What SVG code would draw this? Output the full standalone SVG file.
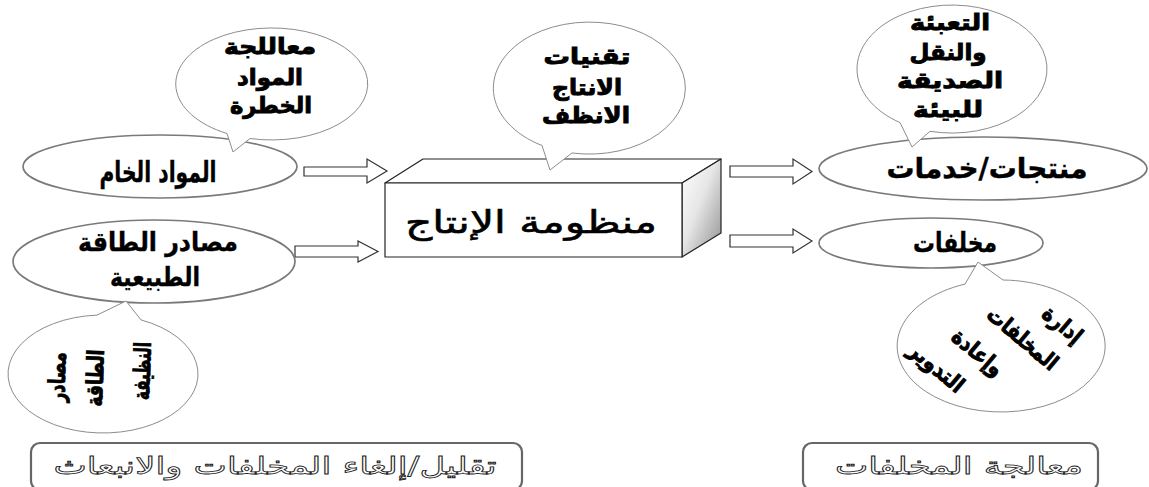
<svg xmlns="http://www.w3.org/2000/svg" width="1149" height="487" viewBox="0 0 1149 487">
<defs>
<linearGradient id="sideGrad" x1="0" y1="0" x2="1" y2="1">
<stop offset="0" stop-color="#ffffff"/>
<stop offset="0.45" stop-color="#e6e6e6"/>
<stop offset="1" stop-color="#8f8f8f"/>
</linearGradient>
<style>
.ell{fill:#fff;stroke:#7a7a7a;stroke-width:1.7}
.bub{fill:#fff;stroke:#8c8c8c;stroke-width:1}
.arr{fill:#fff;stroke:#333;stroke-width:1.2}
.box{fill:#fff;stroke:#222;stroke-width:1.2;stroke-linejoin:round}
.frm{fill:none;stroke:#666;stroke-width:2.2}
.bt{font-family:"DejaVu Sans",sans-serif;font-weight:bold;fill:#000;stroke:#000;stroke-width:0.9;text-anchor:middle}
.nt{font-family:"DejaVu Sans",sans-serif;font-weight:bold;fill:#000;stroke:#000;stroke-width:0.4;text-anchor:middle}
.ot{font-family:"DejaVu Sans",sans-serif;fill:#fff;stroke:#222;stroke-width:0.8;text-anchor:middle}
</style>
</defs>
<rect width="1149" height="487" fill="#fff"/>

<g id="connectors">
<path class="arr" d="M304,167 H367 V159 L387,171 L367,183 V176 H304 Z"/>
<path class="arr" d="M295,246 H358 V241 L378,251.5 L358,262 V257 H295 Z"/>
<path class="arr" d="M730,166 H793 V159 L812,171.5 L793,184 V177 H730 Z"/>
<path class="arr" d="M730,235 H793 V229 L812,241 L793,253 V247 H730 Z"/>
</g>

<g id="raw-materials">
<ellipse class="ell" cx="160" cy="166.5" rx="137" ry="31.5"/>
<text class="nt" x="158" y="182" font-size="29" textLength="117" lengthAdjust="spacingAndGlyphs">المواد الخام</text>
</g>

<g id="hazardous-bubble">
<path class="bub" d="M227,133.5 A96,56 0 1,1 250,138.5 L233,152 Z"/>
<text class="bt" x="270" y="54" font-size="22" textLength="92" lengthAdjust="spacingAndGlyphs">معاللجة</text>
<text class="bt" x="270" y="85" font-size="22" textLength="66" lengthAdjust="spacingAndGlyphs">المواد</text>
<text class="bt" x="271" y="113" font-size="22" textLength="82" lengthAdjust="spacingAndGlyphs">الخطرة</text>
</g>

<g id="natural-energy">
<ellipse class="ell" cx="154" cy="261.5" rx="141" ry="41.5"/>
<text class="nt" x="158" y="251" font-size="26" textLength="160" lengthAdjust="spacingAndGlyphs">مصادر الطاقة</text>
<text class="nt" x="155" y="286" font-size="26" textLength="90" lengthAdjust="spacingAndGlyphs">الطبيعية</text>
</g>

<g id="clean-energy-bubble">
<path class="bub" d="M141,319.9 A95,59 0 1,1 97,315.1 L126,301 Z"/>
<g transform="rotate(-88 57 377)"><text class="bt" x="57" y="385" font-size="23" textLength="50" lengthAdjust="spacingAndGlyphs">مصادر</text></g>
<g transform="rotate(-88 95 378)"><text class="bt" x="95" y="386" font-size="23" textLength="57" lengthAdjust="spacingAndGlyphs">الطاقة</text></g>
<g transform="rotate(-88 142 371)"><text class="bt" x="142" y="379" font-size="23" textLength="58" lengthAdjust="spacingAndGlyphs">النظيفة</text></g>
</g>

<g id="production-system">
<polygon class="box" points="385,183 423,159 721,159 682,183"/>
<polygon class="box" points="682,183 721,159 721,233 682,257" style="fill:url(#sideGrad)"/>
<rect class="box" x="385" y="183" width="297" height="74"/>
<text class="nt" x="531" y="233" font-size="31" textLength="252" lengthAdjust="spacingAndGlyphs" style="font-weight:normal;stroke-width:0.6">منظومة الإنتاج</text>
</g>

<g id="clean-tech-bubble">
<path class="bub" d="M542,145.5 A96,66 0 1,1 572,153 L550,170 Z"/>
<text class="bt" x="587" y="64" font-size="22" textLength="87" lengthAdjust="spacingAndGlyphs">تقنيات</text>
<text class="bt" x="587" y="95" font-size="22" textLength="70" lengthAdjust="spacingAndGlyphs">الانتاج</text>
<text class="bt" x="586" y="123" font-size="22" textLength="88" lengthAdjust="spacingAndGlyphs">الانظف</text>
</g>

<g id="products">
<ellipse class="ell" cx="983" cy="168.5" rx="164" ry="31.5"/>
<text class="nt" x="987" y="178" font-size="28" textLength="201" lengthAdjust="spacingAndGlyphs">منتجات/خدمات</text>
</g>

<g id="packaging-bubble">
<path class="bub" d="M900,122.6 A95,64 0 1,1 930,131.3 L912,147 Z"/>
<text class="bt" x="950" y="30" font-size="22" textLength="80" lengthAdjust="spacingAndGlyphs">التعبئة</text>
<text class="bt" x="948" y="60" font-size="22" textLength="77" lengthAdjust="spacingAndGlyphs">والنقل</text>
<text class="bt" x="950" y="88" font-size="22" textLength="106" lengthAdjust="spacingAndGlyphs">الصديقة</text>
<text class="bt" x="948" y="117" font-size="22" textLength="70" lengthAdjust="spacingAndGlyphs">للبيئة</text>
</g>

<g id="wastes">
<ellipse class="ell" cx="931" cy="243" rx="112" ry="25"/>
<text class="nt" x="955" y="252" font-size="27" textLength="84" lengthAdjust="spacingAndGlyphs">مخلفات</text>
</g>

<g id="waste-management-bubble">
<path class="bub" d="M1003,280 A104,66 0 1,1 965,284.1 L978,262 Z"/>
<g transform="rotate(40 1063 324)"><text class="bt" x="1063" y="332" font-size="22" textLength="45" lengthAdjust="spacingAndGlyphs">إدارة</text></g>
<g transform="rotate(40 1023 338)"><text class="bt" x="1023" y="346" font-size="22" textLength="85" lengthAdjust="spacingAndGlyphs">المخلفات</text></g>
<g transform="rotate(40 978 352)"><text class="bt" x="978" y="360" font-size="22" textLength="60" lengthAdjust="spacingAndGlyphs">وإعادة</text></g>
<g transform="rotate(40 937 367)"><text class="bt" x="937" y="375" font-size="22" textLength="65" lengthAdjust="spacingAndGlyphs">التدوير</text></g>
</g>

<g id="reduce-frame">
<rect class="frm" x="31" y="443" width="491" height="47" rx="9"/>
<text class="ot" x="275" y="474" font-size="24" textLength="443" lengthAdjust="spacingAndGlyphs">تقليل/إلغاء المخلفات والانبعاث</text>
</g>

<g id="treatment-frame">
<rect class="frm" x="803" y="443" width="295" height="47" rx="9"/>
<text class="ot" x="959" y="474" font-size="24" textLength="248" lengthAdjust="spacingAndGlyphs">معالجة المخلفات</text>
</g>
</svg>
